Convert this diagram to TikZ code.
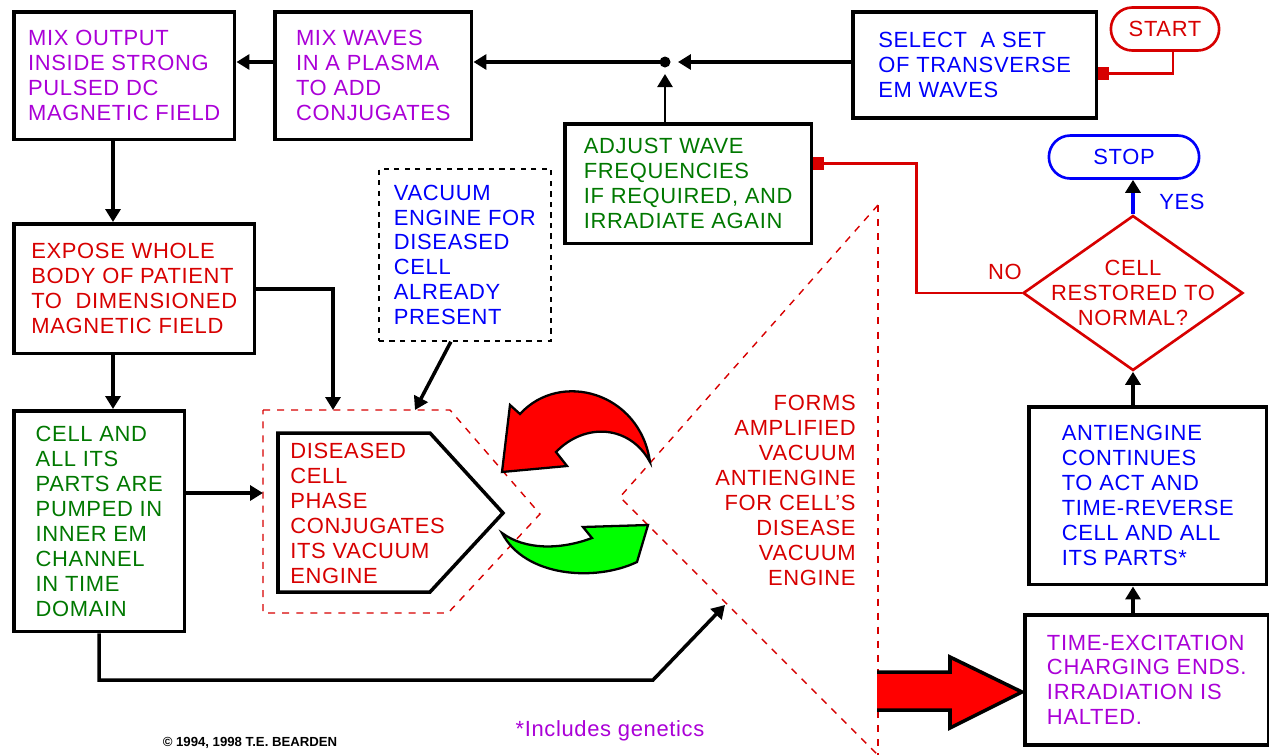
\documentclass[tikz,border=0pt]{standalone}
\usepackage{fontspec}
\setmainfont{Liberation Sans}
\usepackage{xcolor}
\usetikzlibrary{positioning,arrows.meta,shapes.geometric,shapes.misc}
\definecolor{plum}{RGB}{170,0,215}
\definecolor{rd}{RGB}{215,0,0}
\definecolor{gn}{RGB}{0,120,0}
\definecolor{bl}{RGB}{0,0,250}
\newcommand{\boxfont}{\fontsize{12.5}{14.2}\selectfont\addfontfeature{LetterSpace=3}}

\begin{document}
\begin{tikzpicture}[
    x=0.02cm, y=-0.02cm,
    font=\boxfont,
    b/.style={draw, line width=2pt, align=left, anchor=north west, inner sep=0pt},
    term/.style={rounded rectangle, draw, line width=1.5pt, minimum height=0.86cm},
    fl/.style={-{Triangle[length=2.6mm,width=3mm]}, line width=2pt},
    rfl/.style={-{Square[length=2.2mm,width=2.6mm]}, line width=1.6pt, rd},
    dsh/.style={rd, line width=0.8pt, dash pattern=on 4pt off 4pt},
]
    \useasboundingbox (0,0) rectangle (1269,755);

    \node[b, text=plum, minimum width=4.42cm, minimum height=2.56cm] (mixout) at (12,10) {MIX OUTPUT\\INSIDE STRONG\\PULSED DC\\MAGNETIC FIELD};
    \node[b, text=plum, minimum width=3.94cm, minimum height=2.56cm] (mixwaves) at (273,10) {MIX WAVES\\IN A PLASMA\\TO ADD\\CONJUGATES};
    \node[b, text=bl, minimum width=4.88cm, minimum height=2.12cm] (select) at (851,10) {SELECT \ A SET\\OF TRANSVERSE\\EM WAVES};
    \node[term, draw=rd, text=rd, minimum width=2.4cm] (start) at (1165,29) {START};
    \node[b, text=gn, minimum width=4.94cm, minimum height=2.4cm] (adjust) at (563,122) {ADJUST WAVE\\FREQUENCIES\\IF REQUIRED, AND\\IRRADIATE AGAIN};
    \node[term, draw=bl, text=bl, minimum width=3.24cm] (stop) at (1124,157) {STOP};
    \node[diamond, draw=rd, text=rd, line width=1.5pt, align=center, minimum width=4.4cm, minimum height=3.1cm, inner sep=-0.6cm] (cond) at (1133,293) {CELL\\RESTORED TO\\NORMAL?};
    \node[b, text=rd, minimum width=4.82cm, minimum height=2.6cm] (expose) at (12,222) {EXPOSE WHOLE\\BODY OF PATIENT\\TO \ DIMENSIONED\\MAGNETIC FIELD};
    \node[b, dashed, line width=1pt, text=bl, minimum width=3.44cm, minimum height=3.44cm] (vacuum) at (378,168) {VACUUM\\ENGINE FOR\\DISEASED\\CELL\\ALREADY\\PRESENT};
    \node[b, text=gn, minimum width=3.42cm, minimum height=4.42cm] (cell) at (12,409) {CELL AND\\ALL ITS\\PARTS ARE\\PUMPED IN\\INNER EM\\CHANNEL\\IN TIME\\DOMAIN};
    \node[b, text=bl, minimum width=4.76cm, minimum height=3.56cm] (anti) at (1027,405) {ANTIENGINE\\CONTINUES\\TO ACT AND\\TIME-REVERSE\\CELL AND ALL\\ITS PARTS*};
    \node[b, text=plum, minimum width=4.88cm, minimum height=2.6cm] (timex) at (1023,613) {TIME-EXCITATION\\CHARGING ENDS.\\IRRADIATION IS\\HALTED.};

    % phase conjugating cell and its dashed region
    \draw[dsh] (263,410) -- (450,410) -- (540,514) -- (448,613) -- (263,613) -- cycle;
    \draw[line width=2pt] (278,433) -- (430,433) -- (503,513) -- (430,592) -- (278,592) -- cycle;
    \node[anchor=north west, inner sep=0pt, align=left, text=rd] (dis) at (290,443) {DISEASED\\CELL\\PHASE\\CONJUGATES\\ITS VACUUM\\ENGINE};
    \draw[dsh] (878,205) -- (620,497) -- (878,755);
    \draw[dsh] (878,205) -- (878,755);
    \node[text=rd, align=right, anchor=north east, inner sep=0pt] (forms) at (856,395) {FORMS\\AMPLIFIED\\VACUUM\\ANTIENGINE\\FOR CELL'S\\DISEASE\\VACUUM\\ENGINE};

    % curved and block arrows
    \draw[line width=1.3pt, fill=red] (650,462) .. controls (640,392) and (560,370) .. (520,414) -- (510,405) -- (502,472) -- (567,466) -- (556,452) .. controls (585,422) and (630,425) .. (650,462) -- cycle;
    \draw[line width=1.3pt, fill=green] (502,533) .. controls (525,577) and (595,582) .. (637,562) -- (648,525) -- (583,527) -- (592,538) .. controls (560,550) and (525,550) .. (502,533) -- cycle;
    \fill[red] (877,672) -- (950,672) -- (950,657) -- (1022,692) -- (950,728) -- (950,710) -- (877,710) -- cycle;
    \draw[line width=2pt] (877,672) -- (950,672) -- (950,657) -- (1022,692) -- (950,728) -- (950,710) -- (877,710);

    \coordinate (jn) at (665,62);
    \coordinate (colx) at (113,0);
    \coordinate (dleft) at (263,493);
    \coordinate (dtopA) at (333,410);
    \coordinate (dtopB) at (415,410);
    \coordinate (bend) at (653,680);
    \coordinate (tri) at (725,605);

    \fill (jn) circle[radius=0.11cm];
    \draw[fl, shorten >=2.6mm] (select.west |- jn) -- (jn);
    \draw[fl, line width=1.4pt, shorten >=2.4mm] (jn |- adjust.north) -- (jn);
    \draw[fl] (jn) -- (mixwaves.east |- jn);
    \draw[fl] (mixwaves.west |- jn) -- (mixout.east |- jn);
    \draw[rfl] ([xshift=0.16cm]start.south) |- ([yshift=-0.18cm]select.east);
    \draw[fl] (mixout.south -| colx) -- (expose.north -| colx);
    \draw[fl] (expose.south -| colx) -- (cell.north -| colx);
    \draw[fl] (expose.east) -| (dtopA);
    \draw[fl] (cell.east |- dleft) -- (dleft);
    \draw[fl] ([xshift=-0.28cm]vacuum.south) -- (dtopB);
    \draw[fl] (cell.south) |- (bend) -- (tri);
    \draw[rfl] (cond.west) -- ++(-105,0) |- ([yshift=0.4cm]adjust.east);
    \draw[fl, bl, -{Triangle[length=2.6mm,width=3mm,color=black]}] (cond.north) -- (cond.north |- stop.south);
    \draw[fl] (cond.south |- anti.north) -- (cond.south);
    \draw[fl] (cond.south |- timex.north) -- (cond.south |- anti.south);

    \node[text=rd] (no) at (1005,272) {NO};
    \node[text=bl] (yes) at (1182,202) {YES};
    \node[text=plum] (gen) at (610,731) {*Includes genetics};
    \node[font=\fontsize{7.5}{8}\selectfont\bfseries] (copy) at (250,743) {© 1994, 1998 T.E. BEARDEN};
\end{tikzpicture}
\end{document}
